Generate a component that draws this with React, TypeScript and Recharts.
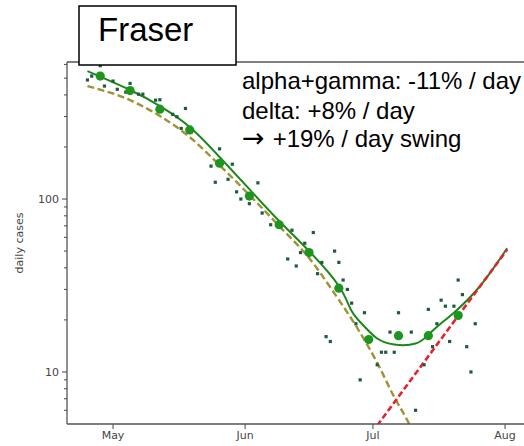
import React from 'react';
import { ComposedChart, Line, Scatter, XAxis, YAxis, ReferenceLine } from 'recharts';

// day 0 = May 1
const dailyDays = [-6, -5, -3, -2, 0, 1, 3, 4, 6, 7, 10, 11, 14, 15, 16, 17, 23, 24, 25, 27, 28, 29, 30, 32, 34, 35, 37, 41, 42, 43, 44, 45, 47, 48, 49, 50, 51, 52, 53, 54, 55, 56, 57, 58, 59, 62, 63, 64, 65, 66, 67, 70, 71, 73, 74, 75, 76, 77, 78, 79, 80, 81, 82, 83, 84, 85];
const dailyCases = [488, 514, 590, 450, 481, 431, 415, 466, 404, 404, 373, 375, 309, 299, 256, 334, 155, 125, 195, 130, 159, 110, 100, 94, 124, 83, 71, 45, 66, 41, 49, 55.5, 64, 37, 43, 16, 15, 50, 43, 34, 30, 25, 19, 9, 22, 11, 13, 13, 17, 13, 22, 17, 6, 11, 23, 14, 19, 26, 24, 15, 24, 34, 28, 14, 10, 19];

const weeklyDays = [-3, 4, 11, 18, 25, 32, 39, 46, 53, 60, 67, 74, 81];
const weeklyCases = [514, 424, 331, 251, 161, 104, 71, 49, 30.5, 15.4, 16.2, 16.2, 21.2];

const fitDays = [-6, 4, 11, 18, 25, 32, 39, 46, 53, 56, 59, 62, 66, 71, 74, 77, 80, 86, 92.5];
const fitCases = [549, 427, 345, 261, 175, 114, 74.6, 50, 31.4, 22.5, 18.3, 15.6, 14.4, 14.6, 16.4, 19.1, 22, 31.1, 51.9];

const alphaDays = [-6, 4, 11, 18, 25, 32, 39, 46, 53, 57, 62, 66, 69, 70];
const alphaCases = [450, 373, 302, 228, 157, 105.5, 69.8, 45.6, 26.1, 18.5, 11.3, 7.16, 5.29, 4.74];

const deltaDays = [62, 92.5];
const deltaCases = [4.9, 51];

const monthTicks = [0, 31, 61, 92];
const monthLabels = ['May', 'Jun', 'Jul', 'Aug'];
const yTicks = [6, 7, 8, 9, 10, 20, 30, 40, 50, 60, 70, 80, 90, 100, 200, 300, 400, 500, 600];
const yLabelled = [10, 100];

const toRows = (days: number[], vals: number[]) => days.map((day, i) => ({ day, v: vals[i] }));

const daily = toRows(dailyDays, dailyCases);
const weekly = toRows(weeklyDays, weeklyCases);
const fit = toRows(fitDays, fitCases);
const alpha = toRows(alphaDays, alphaCases);
const delta = toRows(deltaDays, deltaCases);

const AXIS = '#555';
const TICK_FONT = 'DejaVu Sans, sans-serif';
const TEXT_FONT = 'Liberation Sans, Arial, sans-serif';

const YTick = (props: any) => {
  const { x, y, payload } = props;
  const major = yLabelled.includes(payload.value);
  return (
    <g>
      <line x1={x - (major ? 5 : 3)} x2={x} y1={y} y2={y} stroke={AXIS} strokeWidth={1.1} />
      {major && (
        <text x={x - 8} y={y} dy="0.36em" textAnchor="end" fontSize={11} fill="#444" fontFamily={TICK_FONT}>
          {payload.value}
        </text>
      )}
    </g>
  );
};

const square = (p: any) => <rect x={p.cx - 1.6} y={p.cy - 1.6} width={3.2} height={3.2} fill="#1f5c3f" />;
const bigDot = (p: any) => <circle cx={p.cx} cy={p.cy} r={4.6} fill="#1e951e" />;

export default function App() {
  return (
    <div style={{ position: 'absolute', left: 0, top: 0, width: 524, height: 446, background: '#fff' }}>
      <ComposedChart width={524} height={446} margin={{ top: 62, right: 0, bottom: 0, left: 0 }}>
        <XAxis
          type="number"
          dataKey="day"
          domain={[-10.8, 96.45]}
          allowDataOverflow
          ticks={monthTicks}
          interval={0}
          tickFormatter={(d: number) => monthLabels[monthTicks.indexOf(d)]}
          height={22}
          tickSize={5}
          tickMargin={2}
          stroke={AXIS}
          tick={{ fontSize: 11, fill: '#444', fontFamily: TICK_FONT }}
          axisLine={{ stroke: AXIS, strokeWidth: 1.3 }}
          tickLine={{ stroke: AXIS, strokeWidth: 1.1 }}
        />
        <YAxis
          type="number"
          dataKey="v"
          scale="log"
          domain={[5, 620]}
          allowDataOverflow
          ticks={yTicks}
          interval={0}
          width={67}
          tickSize={0}
          tickMargin={0}
          tickLine={false}
          tick={<YTick />}
          axisLine={{ stroke: AXIS, strokeWidth: 1.3 }}
        />
        <ReferenceLine y={620} stroke={AXIS} strokeWidth={1.3} />
        <Scatter data={daily} dataKey="v" shape={square} isAnimationActive={false} />
        <Scatter data={weekly} dataKey="v" shape={bigDot} isAnimationActive={false} />
        <Line data={fit} dataKey="v" type="natural" stroke="#1b871b" strokeWidth={2} dot={false} isAnimationActive={false} />
        <Line data={alpha} dataKey="v" type="monotone" stroke="#9e9232" strokeWidth={2.4} strokeDasharray="7 3.5" dot={false} isAnimationActive={false} />
        <Line data={delta} dataKey="v" type="linear" stroke="#e8202e" strokeWidth={2.6} strokeDasharray="6 3" dot={false} isAnimationActive={false} />
      </ComposedChart>
      <svg width={524} height={446} style={{ position: 'absolute', left: 0, top: 0, pointerEvents: 'none' }}>
        <text x={23} y={243} transform="rotate(-90 23 243)" textAnchor="middle" fontSize={11} fill="#444" fontFamily={TICK_FONT}>
          daily cases
        </text>
        <rect x={79} y={6} width={157} height={59} fill="#fff" stroke="#000" strokeWidth={1.5} />
        <text x={98} y={41} fontSize={33} fill="#000" fontFamily={TEXT_FONT}>Fraser</text>
        <g fontSize={24} fill="#000" fontFamily={TEXT_FONT}>
          <text x={242} y={89}>alpha+gamma: -11% / day</text>
          <text x={242} y={119}>delta: +8% / day</text>
          <text x={242} y={147}>
            <tspan fontFamily={TICK_FONT} fontSize={27}>→</tspan>
            <tspan dx={8}>+19% / day swing</tspan>
          </text>
        </g>
      </svg>
    </div>
  );
}
